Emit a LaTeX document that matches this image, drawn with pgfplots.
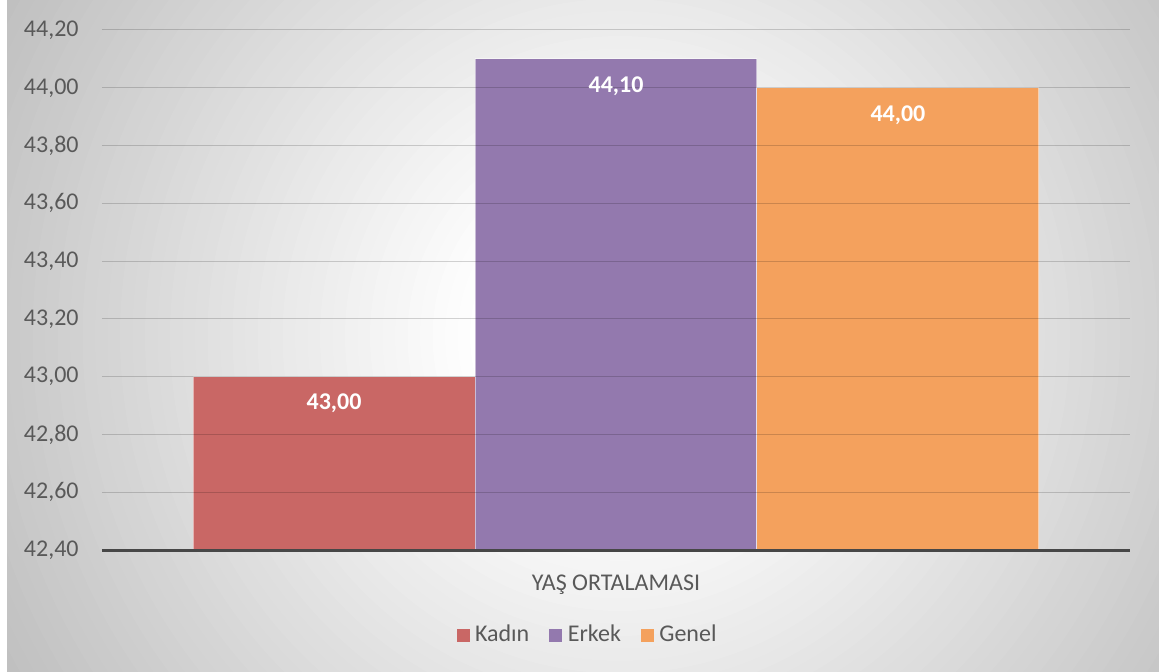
\documentclass[border=0pt]{standalone}
\usepackage{pgfplots}
\pgfplotsset{compat=1.18}
\usepackage{fontspec}
\setmainfont{Carlito}
\definecolor{kadin}{HTML}{C96765}
\definecolor{erkek}{HTML}{9379AE}
\definecolor{genel}{HTML}{F4A15D}
\definecolor{txt}{HTML}{595959}
\definecolor{bggray}{HTML}{C0C0C0}
\begin{document}
\begin{tikzpicture}
\fill[white] (0,0) rectangle (579.5pt,-336pt);
\begin{scope}
\clip (3.5pt,0) rectangle (579.5pt,-336pt);
\fill[bggray] (3.5pt,0) rectangle (579.5pt,-336pt);
\foreach \i in {0,...,44}{
  \pgfmathsetmacro\r{350-\i*6.25}
  \pgfmathsetmacro\p{100-\i*100/44}
  \fill[bggray!\p!white] (310pt,-168pt) circle (\r pt);
}
\end{scope}
\begin{axis}[
  at={(51pt,-275pt)}, anchor=south west,
  scale only axis, width=514pt, height=260pt,
  xmin=-1.823, xmax=1.823, ymin=42.4, ymax=44.2,
  ytick={42.4,42.6,42.8,43.0,43.2,43.4,43.6,43.8,44.0,44.2},
  xtick={0}, xticklabels={YAŞ ORTALAMASI},
  axis x line*=bottom, axis y line*=left,
  x axis line style={-, draw=black!72, line width=1.5pt},
  y axis line style={draw=none},
  major tick length=0pt,
  ymajorgrids, grid style={black, opacity=0.17, line width=0.5pt},
  axis on top,
  yticklabel style={font=\fontsize{12}{14}\selectfont, text=txt, anchor=east, inner sep=0pt, xshift=-11.5pt},
  xticklabel style={font=\fontsize{12}{14}\selectfont, text=txt, anchor=north, inner sep=0pt, yshift=-12.5pt},
  nodes near coords,
  every node near coord/.style={font=\bfseries\fontsize{12}{14}\selectfont, text=white, anchor=center, yshift=-13.5pt},
  legend columns=3,
  legend style={at={(0.4728,-0.1635)}, anchor=center, draw=none, fill=none,
    font=\fontsize{12}{14}\selectfont, text=txt,
    nodes={inner sep=1.5pt},
    /tikz/every even column/.append style={column sep=8.5pt}},
  legend image code/.code={\fill[#1, draw=none] (0pt,-3.25pt) rectangle (6.5pt,3.25pt); \path (7.5pt,0pt);},
  /pgf/number format/fixed,
  /pgf/number format/fixed zerofill,
  /pgf/number format/precision=2,
  /pgf/number format/use comma,
  /pgf/number format/assume math mode=true,
]
\addplot[ybar, bar width=1, bar shift=0, fill=kadin, draw=white, draw opacity=0.5, line width=0.5pt] coordinates {(-1,43.00)};
\addlegendentry{Kadın}
\addplot[ybar, bar width=1, bar shift=0, fill=erkek, draw=white, draw opacity=0.5, line width=0.5pt] coordinates {(0,44.10)};
\addlegendentry{Erkek}
\addplot[ybar, bar width=1, bar shift=0, fill=genel, draw=white, draw opacity=0.5, line width=0.5pt] coordinates {(1,44.00)};
\addlegendentry{Genel}
\end{axis}
\end{tikzpicture}
\end{document}
